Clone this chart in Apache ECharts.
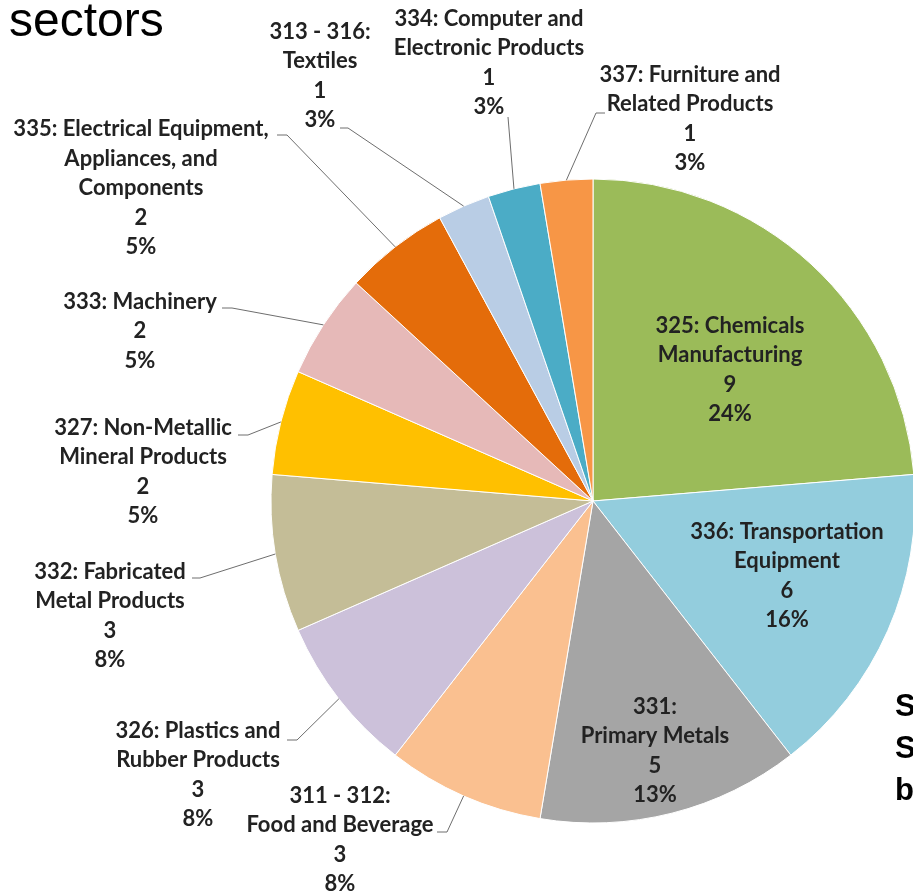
<!DOCTYPE html>
<html>
<head>
<meta charset="utf-8">
<script src="https://cdn.jsdelivr.net/npm/echarts@6/dist/echarts.min.js"></script>
<style>
html,body{margin:0;padding:0;background:#fff;}
#chart{width:913px;height:893px;}
</style>
</head>
<body>
<div id="chart"></div>
<script>
// ---- data (clockwise from 12 o'clock) ----
const categories = [
  '325: Chemicals\nManufacturing',
  '336: Transportation\nEquipment',
  '331:\nPrimary Metals',
  '311 - 312:\nFood and Beverage',
  '326: Plastics and\nRubber Products',
  '332: Fabricated\nMetal Products',
  '327: Non-Metallic\nMineral Products',
  '333: Machinery',
  '335: Electrical Equipment,\nAppliances, and\nComponents',
  '313 - 316:\nTextiles',
  '334: Computer and\nElectronic Products',
  '337: Furniture and\nRelated Products'
];
const counts = [9, 6, 5, 3, 3, 3, 2, 2, 2, 1, 1, 1];

// ---- styles / layout ----
const colors = ['#9BBB59','#93CDDD','#A5A5A5','#FAC090','#CCC1DA','#C4BD97',
                '#FFC000','#E6B9B8','#E46C0A','#B9CDE5','#4BACC6','#F79646'];
const CX = 593, CY = 501, R = 322;
// label block centres
const labelPos = [[730,370],[787,576],[655,751],[340,840],[198,775],[110,616],
                  [143,472],[140,331],[141,188],[320,76],[489,63],[690,119]];
// leader line points near the label (then to slice edge); null = inside label
const leaderNear = [null, null, null,
  [[437,832],[447,832]],
  [[287,740],[297,740]],
  [[192,578],[200,578]],
  [[238,435],[248,435]],
  [[222,308],[232,308]],
  [[277,135],[287,135]],
  [[340,128],[348,128]],
  [[508,117]],
  [[605,113],[596,113]]
];

const total = counts.reduce((a, b) => a + b, 0);

// leader lines: from label to slice outer edge at mid-angle
const graphics = [];
let cum = 0;
counts.forEach((v, i) => {
  const mid = (cum + v / 2) / total * 2 * Math.PI;
  cum += v;
  if (!leaderNear[i]) return;
  const ax = CX + R * Math.sin(mid), ay = CY - R * Math.cos(mid);
  const pts = leaderNear[i].concat([[ax, ay]]);
  graphics.push({
    type: 'polyline', z: 10,
    shape: { points: pts },
    style: { stroke: '#6e6e6e', lineWidth: 1, fill: null }
  });
});
graphics.push({
  type: 'text', left: 9, top: -1,
  style: { text: 'sectors', font: '48px "Liberation Sans", Arial, sans-serif', fill: '#000' }
});
graphics.push({
  type: 'text', left: 895, top: 686,
  style: { text: 'S\nS\nb', font: 'bold 31px "Liberation Sans", Arial, sans-serif',
           fill: '#000', lineHeight: 42 }
});

const chart = echarts.init(document.getElementById('chart'));
chart.setOption({
  animation: false,
  backgroundColor: '#fff',
  color: colors,
  graphic: graphics,
  series: [{
    type: 'pie',
    center: [CX, CY],
    radius: R,
    startAngle: 90,
    clockwise: true,
    avoidLabelOverlap: false,
    itemStyle: { borderColor: '#fff', borderWidth: 1 },
    label: {
      show: true,
      position: 'outside',
      fontFamily: 'Lato',
      fontWeight: 'bold',
      fontSize: 22,
      lineHeight: 29.5,
      color: '#222',
      align: 'center',
      formatter: p => p.name + '\n' + p.value + '\n' + Math.round(p.value / total * 100) + '%'
    },
    labelLine: { show: false },
    labelLayout: params => ({
      x: labelPos[params.dataIndex][0],
      y: labelPos[params.dataIndex][1],
      align: 'center',
      verticalAlign: 'middle'
    }),
    data: categories.map((c, i) => ({ name: c, value: counts[i] }))
  }]
});
</script>
</body>
</html>
